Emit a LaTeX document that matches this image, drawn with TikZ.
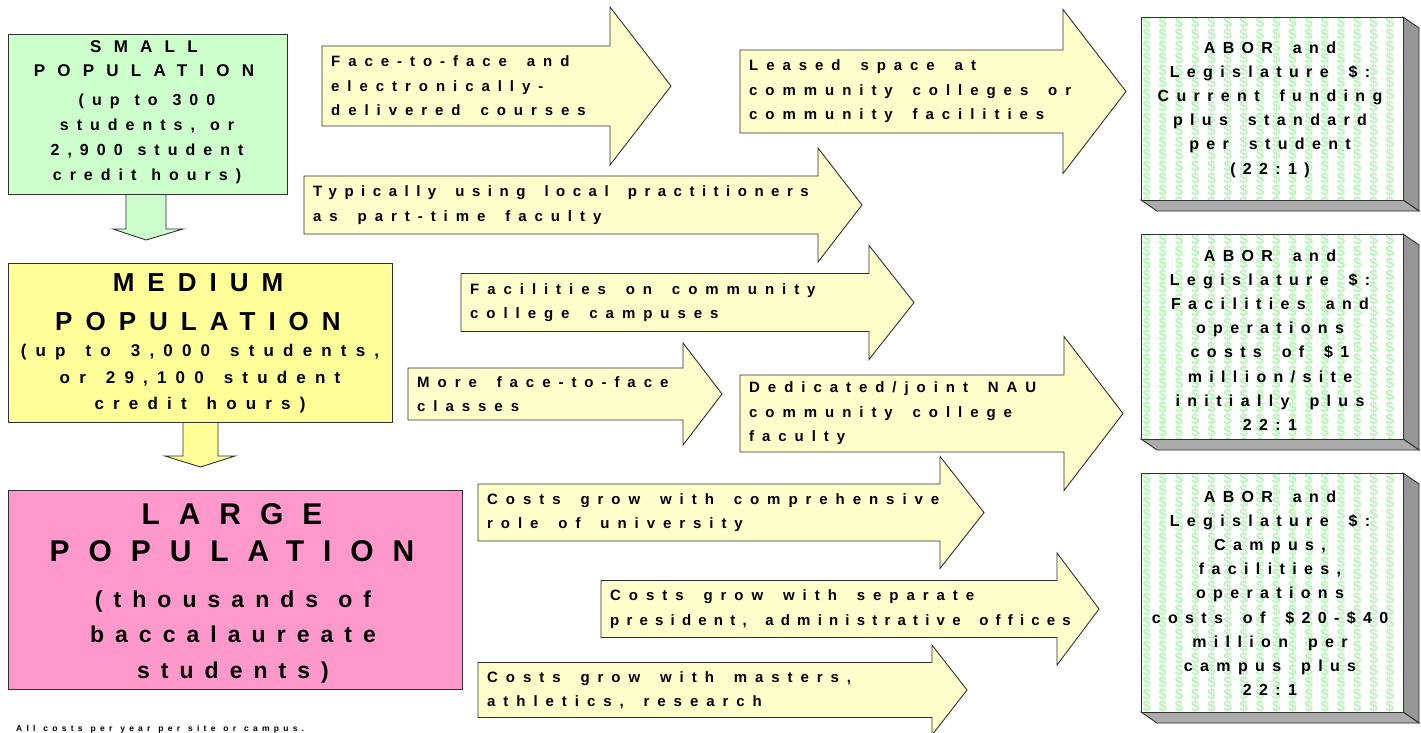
\documentclass[tikz,border=0pt]{standalone}
\usepackage{fontspec}
\setmainfont{Liberation Sans}
% letter-spaced families for the different text blocks
\newfontfamily\arrowfam{Liberation Sans}[LetterSpace=53, WordSpace=1.64]
\newfontfamily\boxfam{Liberation Sans}[LetterSpace=46, WordSpace=1.69]
\newfontfamily\smallsubfam{Liberation Sans}[LetterSpace=50, WordSpace=1.41]
\newfontfamily\smalltitlefam{Liberation Sans}[LetterSpace=72]
\newfontfamily\medtitlefam{Liberation Sans}[LetterSpace=50]
\newfontfamily\medfam{Liberation Sans}[LetterSpace=54, WordSpace=1.44]
\newfontfamily\largetitlefam{Liberation Sans}[LetterSpace=63]
\newfontfamily\largefam{Liberation Sans}[LetterSpace=48, WordSpace=1.15]
\newfontfamily\notefam{Liberation Sans}[LetterSpace=50, WordSpace=1.2]

\definecolor{smallfill}{HTML}{CCFFCC}
\definecolor{medfill}{HTML}{FFFF99}
\definecolor{largefill}{HTML}{FF99CC}
\definecolor{arrowfill}{HTML}{FFFFCC}
\definecolor{edge}{HTML}{303030}
\definecolor{dollarcol}{HTML}{B6F5B6}
\definecolor{sidegray}{HTML}{969696}
\definecolor{bottomgray}{HTML}{ABABAB}

\tikzset{
  outline/.style={draw=edge, line width=0.9pt, line join=miter},
  popbox/.style={outline, anchor=north west, inner sep=0pt},
  arrowtext/.style={anchor=west, inner sep=0pt, align=left,
    font=\arrowfam\bfseries\fontsize{15}{24.5}\selectfont},
  fundtext/.style={inner sep=0pt, align=center,
    font=\boxfam\bfseries\fontsize{16}{24.2}\selectfont},
  dollarmark/.style={inner sep=0pt, text=dollarcol,
    font=\bfseries\fontsize{15}{15}\selectfont},
  poptext/.style={inner sep=0pt, align=center},
}

% wide block arrow: name, left x, head base x, tip x, centre y,
% half shaft height, half head height, label
\newcommand\fatarrow[8]{%
  \filldraw[outline, fill=arrowfill]
    (#2,#5-#6) -- (#3,#5-#6) -- (#3,#5-#7) -- (#4,#5)
    -- (#3,#5+#7) -- (#3,#5+#6) -- (#2,#5+#6) -- cycle;
  \node[arrowtext] (#1) at (#2+9,#5) {#8};
}

% downward block arrow: fill, shaft left, shaft right, top y, neck y,
% head left, head right, tip y
\newcommand\dropshape[8]{%
  \filldraw[outline, fill=#1]
    (#2,#4) -- (#2,#5) -- (#6,#5) -- ({(#2+#3)/2},#8) -- (#7,#5)
    -- (#3,#5) -- (#3,#4) -- cycle;
}

% raised funding panel with a dollar-sign fill: name, top y, bottom y,
% text centre y, text
\newcommand\fundpanel[5]{%
  \filldraw[outline, fill=sidegray]
    (1403,#2) -- (1419,#2+11) -- (1419,#3+11) -- (1403,#3) -- cycle;
  \filldraw[outline, fill=bottomgray]
    (1141,#3) -- (1403,#3) -- (1419,#3+11) -- (1157,#3+11) -- cycle;
  \fill[white] (1141,#2) rectangle (1403,#3);
  \begin{scope}
    \clip (1141,#2) rectangle (1403,#3);
    \foreach \i in {0,...,15}{
      \foreach \j in {0,...,20}{
        \node[dollarmark] at (1146.7+16.2*\i, #2+5+12*\j) {\$};
      }
    }
  \end{scope}
  \draw[outline] (1141,#2) rectangle (1403,#3);
  \node[fundtext] (#1) at (1270,#4) {#5};
}

\begin{document}
\begin{tikzpicture}[x=1pt,y=-1pt]
\useasboundingbox (0,0) rectangle (1421,733);
\fill[white] (0,0) rectangle (1421,733);

% arrows between the population levels
\dropshape{smallfill}{126}{166}{193}{229}{113}{183}{240}
\dropshape{medfill}{183}{218}{421}{456}{165}{235}{467}

% population boxes
\node[popbox, fill=smallfill, minimum width=279, minimum height=160] (small) at (8,34) {};
\node[popbox, fill=medfill, minimum width=384, minimum height=159] (medium) at (8,263) {};
\node[popbox, fill=largefill, minimum width=454, minimum height=199] (large) at (8,490) {};

\node[poptext, font=\smalltitlefam\bfseries\fontsize{17}{24}\selectfont]
  (small-title) at (144,59) {SMALL\\POPULATION};
\node[poptext, font=\smallsubfam\bfseries\fontsize{16}{25}\selectfont]
  (small-sub) at (147,139) {(up to 300\\students, or\\2,900 student\\credit hours)};

\node[poptext, font=\medtitlefam\bfseries\fontsize{26}{39}\selectfont]
  (medium-title) at (198,302.5) {MEDIUM\\POPULATION};
\node[poptext, font=\medfam\bfseries\fontsize{17}{26.5}\selectfont]
  (medium-sub) at (200,379) {(up to 3,000 students,\\or 29,100 student\\credit hours)};

\node[poptext, font=\largetitlefam\bfseries\fontsize{30}{37}\selectfont]
  (large-title) at (232,533) {LARGE\\POPULATION};
\node[poptext, font=\largefam\bfseries\fontsize{23}{35.5}\selectfont]
  (large-sub) at (233,637) {(thousands of\\baccalaureate\\students)};

% delivery and cost arrows
\fatarrow{a1}{322}{610}{671}{86}{40}{79}{Face-to-face and\\electronically-\\delivered courses}
\fatarrow{a2}{304}{818}{862}{205}{29}{57}{{\addfontfeature{LetterSpace=50}Typically using local practitioners}\\as part-time faculty}
\fatarrow{a3}{740}{1063}{1126}{91.5}{41.5}{82}{Leased space at\\community colleges or\\community facilities}
\fatarrow{a4}{461}{869}{914}{302.5}{29}{57}{Facilities on community\\college campuses}
\fatarrow{a5}{408}{683}{722}{394}{26}{51}{More face-to-face\\classes}
\fatarrow{a6}{740}{1064}{1123}{413.5}{38.5}{77}{Dedicated/joint NAU\\community college\\faculty}
\fatarrow{a7}{478}{940}{984}{512.5}{28.5}{56}{Costs grow with comprehensive\\role of university}
\fatarrow{a8}{601}{1057}{1099}{609}{28.5}{56}{Costs grow with separate\\{\addfontfeature{LetterSpace=48}president, administrative offices}}
\fatarrow{a9}{478}{932}{967}{690}{27.5}{45}{Costs grow with masters,\\athletics, research}

% funding panels
\fundpanel{fund1}{17}{200}{109.5}{ABOR and\\Legislature \$:\\Current funding\\plus standard\\per student\\(22:1)}
\fundpanel{fund2}{234}{439}{340}{ABOR and\\Legislature \$:\\Facilities and\\operations\\costs of \$1\\million/site\\initially plus\\22:1}
\fundpanel{fund3}{473}{712}{593}{ABOR and\\Legislature \$:\\Campus,\\facilities,\\operations\\costs of \$20-\$40\\million per\\campus plus\\22:1}

% footnote
\node[anchor=base west, inner sep=0pt, font=\notefam\bfseries\fontsize{8.5}{10}\selectfont]
  (note) at (16,731) {All costs per year per site or campus.};
\end{tikzpicture}
\end{document}
